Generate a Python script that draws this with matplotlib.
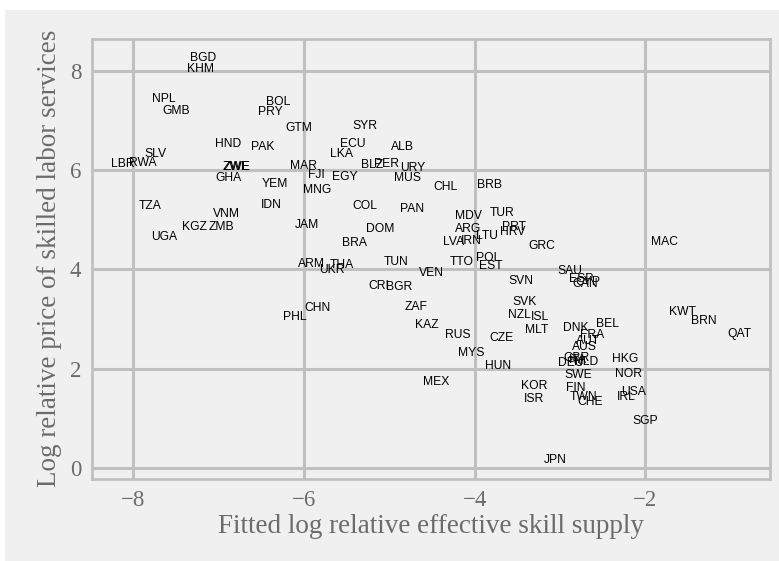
import matplotlib
matplotlib.use("Agg")
import matplotlib.pyplot as plt
from matplotlib.patches import Rectangle

# country codes with fitted log relative skill supply (x) and log relative price (y)
codes = ["BGD", "KHM", "NPL", "GMB", "BOL", "PRY", "GTM", "SYR", "HND", "PAK",
         "ECU", "ALB", "LKA", "SLV", "LBR", "RWA", "ZWE", "ZWE", "MAR", "BLZ",
         "PER", "URY", "FJI", "EGY", "MUS", "GHA", "YEM", "MNG", "CHL", "BRB",
         "TZA", "IDN", "COL", "PAN", "VNM", "MDV", "TUR", "KGZ", "ZMB", "JAM",
         "DOM", "ARG", "PRT", "HRV", "LTU", "UGA", "LVA", "IRN", "BRA", "GRC",
         "MAC", "TTO", "POL", "EST", "ARM", "THA", "UKR", "TUN", "VEN", "SAU",
         "ESP", "CYP", "CAN", "SVN", "CRI", "BGR", "SVK", "CHN", "ZAF", "PHL",
         "NZL", "ISL", "KWT", "BRN", "KAZ", "BEL", "MLT", "DNK", "FRA", "QAT",
         "RUS", "CZE", "AUT", "AUS", "MYS", "GBR", "HKG", "NLD", "DEU", "ITA",
         "HUN", "SWE", "NOR", "MEX", "KOR", "FIN", "USA", "IRL", "ISR", "TWN",
         "CHE", "SGP", "JPN"]
supply = [-7.18, -7.21, -7.64, -7.49, -6.30, -6.39, -6.06, -5.28, -6.88, -6.48,
          -5.43, -4.85, -5.56, -7.74, -8.12, -7.88, -6.79, -6.785, -6.00, -5.20,
          -5.03, -4.72, -5.85, -5.52, -4.79, -6.88, -6.34, -5.84, -4.34, -3.83,
          -7.80, -6.38, -5.29, -4.73, -6.91, -4.07, -3.68, -7.28, -6.96, -5.96,
          -5.10, -4.08, -3.54, -3.55, -3.85, -7.63, -4.25, -4.04, -5.41, -3.21,
          -1.78, -4.15, -3.84, -3.81, -5.91, -5.55, -5.67, -4.92, -4.51, -2.89,
          -2.75, -2.67, -2.71, -3.46, -5.12, -4.88, -3.42, -5.84, -4.68, -6.11,
          -3.47, -3.24, -1.57, -1.32, -4.56, -2.44, -3.27, -2.81, -2.62, -0.90,
          -4.20, -3.68, -2.67, -2.72, -4.04, -2.81, -2.24, -2.69, -2.87, -2.79,
          -3.72, -2.79, -2.20, -4.45, -3.30, -2.82, -2.14, -2.22, -3.30, -2.72,
          -2.65, -2.00, -3.06]
price = [8.25, 8.04, 7.44, 7.20, 7.37, 7.18, 6.84, 6.89, 6.53, 6.46,
         6.53, 6.46, 6.33, 6.33, 6.13, 6.15, 6.07, 6.07, 6.09, 6.10,
         6.12, 6.04, 5.91, 5.87, 5.84, 5.84, 5.73, 5.61, 5.67, 5.71,
         5.28, 5.30, 5.28, 5.21, 5.12, 5.08, 5.13, 4.86, 4.86, 4.90,
         4.81, 4.81, 4.86, 4.76, 4.68, 4.66, 4.56, 4.58, 4.54, 4.48,
         4.55, 4.16, 4.24, 4.06, 4.11, 4.09, 3.99, 4.16, 3.93, 3.97,
         3.80, 3.75, 3.70, 3.77, 3.66, 3.64, 3.35, 3.23, 3.24, 3.05,
         3.08, 3.05, 3.15, 2.97, 2.89, 2.91, 2.79, 2.82, 2.67, 2.70,
         2.67, 2.62, 2.56, 2.44, 2.32, 2.22, 2.20, 2.14, 2.12, 2.17,
         2.06, 1.88, 1.89, 1.73, 1.66, 1.61, 1.54, 1.44, 1.39, 1.43,
         1.33, 0.95, 0.17]

xticks = [-8, -6, -4, -2]
yticks = [0, 2, 4, 6, 8]

bg = "#f0f0f0"
gridc = "#c0c0c0"
labc = "#6b6b6b"

fig = plt.figure(figsize=(7.79, 5.61), dpi=100, facecolor="white")
fig.patches.append(Rectangle((5 / 779, 0), 1, 1 - 10 / 561, transform=fig.transFigure,
                             facecolor=bg, edgecolor="none", zorder=-10))
ax = fig.add_axes([0.1187, 0.1467, 0.8698, 0.7845])
ax.set_facecolor(bg)

for c, xv, yv in zip(codes, supply, price):
    ax.text(xv, yv, c, ha="center", va="center", fontsize=8.7,
            family="Liberation Sans", color="black")

ax.set_xlim(-8.474, -0.541)
ax.set_ylim(-0.215, 8.65)
ax.set_xticks(xticks)
ax.set_yticks(yticks)
ax.grid(True, color=gridc, linewidth=2.2)
ax.set_axisbelow(True)
for s in ax.spines.values():
    s.set_color(gridc)
    s.set_linewidth(2.0)
ax.tick_params(length=0, labelsize=16.5, labelcolor=labc, pad=8)
for t in ax.get_xticklabels() + ax.get_yticklabels():
    t.set_family("Liberation Serif")

ax.set_xlabel("Fitted log relative effective skill supply", fontsize=19.5,
              family="Liberation Serif", color=labc, labelpad=2)
ax.set_ylabel("Log relative price of skilled labor services", fontsize=19.5,
              family="Liberation Serif", color=labc, labelpad=6)

fig.savefig("out.png", dpi=100, facecolor="white")
